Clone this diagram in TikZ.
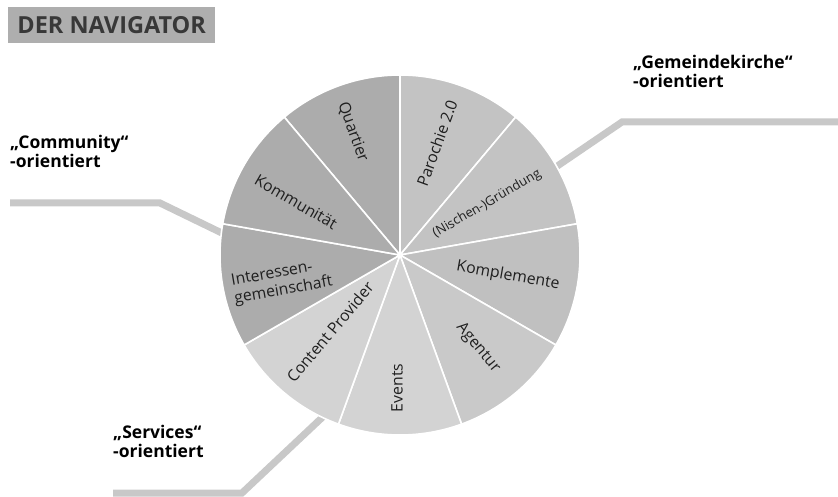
\documentclass[tikz,border=0pt]{standalone}
\usepackage{fontspec}
\setmainfont{Open Sans}
\definecolor{darkseg}{HTML}{ACACAC}
\definecolor{midseg}{HTML}{C3C3C3}
\definecolor{komseg}{HTML}{C0C0C0}
\definecolor{agseg}{HTML}{C9C9C9}
\definecolor{lightseg}{HTML}{D3D3D3}
\definecolor{leadgray}{HTML}{C8C8C8}
\definecolor{titlegray}{HTML}{AEAEAE}
\definecolor{titletext}{HTML}{383838}
\begin{document}
\begin{tikzpicture}[x=1pt,y=1pt,
  sector/.style={draw=white, line width=1.6pt, line join=round},
  lbl/.style={font=\fontsize{15.8}{18}\selectfont, text=black!88, inner sep=0pt},
  grp/.style={font=\bfseries\fontsize{17.5}{19}\selectfont, text=black, align=left, inner sep=0pt, anchor=base west},
  leader/.style={draw=leadgray, line width=7pt, line join=miter}]
\useasboundingbox (0,0) rectangle (838,-497);
\coordinate (c) at (400,-255);

% leaders
\coordinate (l1a) at (10,-203);
\coordinate (l1b) at (160,-203);
\coordinate (l1c) at (228,-236);
\draw[leader] (l1a) -- (l1b) -- (l1c);
\coordinate (l2a) at (838,-122);
\coordinate (l2b) at (622,-122);
\coordinate (l2c) at (550,-171);
\draw[leader] (l2a) -- (l2b) -- (l2c);
\coordinate (l3a) at (113,-493);
\coordinate (l3b) at (242,-493);
\coordinate (l3c) at (328,-412);
\draw[leader] (l3a) -- (l3b) -- (l3c);

% sectors
\foreach \a/\b/\col in {90/130/darkseg, 50/90/midseg, 10/50/midseg, -30/10/komseg,
  -70/-30/agseg, -110/-70/lightseg, -150/-110/lightseg, 170/210/darkseg, 130/170/darkseg}{
  \filldraw[sector, fill=\col] (c) -- ([shift={(c)}]\a:180pt) arc[start angle=\a, end angle=\b, radius=180pt] -- cycle;
}

% sector labels
\node[lbl, rotate=-70] (q) at (353,-132) {Quartier};
\node[lbl, rotate=70] (p) at (437,-143) {Parochie 2.0};
\node[lbl, rotate=30, font=\fontsize{13}{15}\selectfont] (n) at (487,-204) {(Nischen-)Gründung};
\node[lbl, rotate=-10] (k) at (508,-276) {Komplemente};
\node[lbl, rotate=-50] (a) at (478,-348) {Agentur};
\node[lbl, rotate=90] (e) at (397,-388) {Events};
\node[lbl, rotate=50] (cp) at (330,-332) {Content Provider};
\node[lbl, rotate=10, align=left] (ig) at (282,-282) {Interessen-\\gemeinschaft};
\node[lbl, rotate=-30] (km) at (296,-202) {Kommunität};

% title
\node[fill=titlegray, anchor=north west, minimum width=207pt, minimum height=36pt, inner sep=0pt,
  font=\bfseries\fontsize{23.5}{25}\selectfont, text=titletext] (title) at (8,-7) {DER NAVIGATOR};

% group labels
\node[grp] (g1) at (10,-168) {„Community“\\-orientiert};
\node[grp] (g2) at (633,-88) {„Gemeindekirche“\\-orientiert};
\node[grp] (g3) at (113,-457) {„Services“\\-orientiert};
\end{tikzpicture}
\end{document}
